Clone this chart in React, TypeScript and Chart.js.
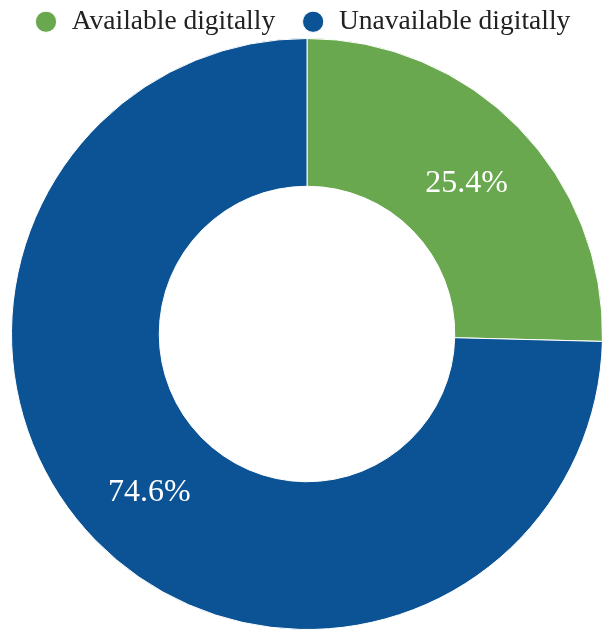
import React, { useEffect, useRef } from "react";
import { Chart, registerables } from "chart.js";

Chart.register(...registerables);

const categories = ["Available digitally", "Unavailable digitally"];
const shares = [25.4, 74.6];
const sliceColors = ["#6aa84f", "#0b5394"];

const FONT_FAMILY = "'Liberation Serif', 'Times New Roman', Times, serif";

const sliceLabelPlugin = {
  id: "sliceLabels",
  afterDatasetsDraw(chart: any) {
    const { ctx } = chart;
    const meta = chart.getDatasetMeta(0);
    const data = chart.data.datasets[0].data as number[];
    ctx.save();
    ctx.fillStyle = "#ffffff";
    ctx.font = "32px " + FONT_FAMILY;
    ctx.textAlign = "center";
    ctx.textBaseline = "middle";
    meta.data.forEach((arc: any, i: number) => {
      const p = arc.getProps(["x", "y", "startAngle", "endAngle", "innerRadius", "outerRadius"], true);
      const mid = (p.startAngle + p.endAngle) / 2;
      const r = (p.innerRadius + p.outerRadius) / 2;
      ctx.fillText(data[i].toFixed(1) + "%", p.x + Math.cos(mid) * r + 1, p.y + Math.sin(mid) * r + 4);
    });
    ctx.restore();
  },
};

export default function App() {
  const ref = useRef<HTMLCanvasElement | null>(null);
  useEffect(() => {
    let chart: Chart | null = null;
    let cancelled = false;
    const build = () => {
      if (cancelled || !ref.current) return;
      chart = new Chart(ref.current, {
        type: "doughnut",
        data: {
          labels: categories,
          datasets: [
            {
              data: shares,
              backgroundColor: sliceColors,
              borderColor: "#ffffff",
              borderWidth: 1,
            },
          ],
        },
        options: {
          animation: false,
          responsive: false,
          maintainAspectRatio: false,
          events: [],
          cutout: "50%",
          layout: { padding: { left: 8, right: 0, top: 0, bottom: 3 } },
          plugins: {
            tooltip: { enabled: false },
            legend: {
              position: "top",
              align: "start",
              maxHeight: 56,
              labels: {
                usePointStyle: true,
                pointStyle: "circle",
                boxWidth: 24,
                boxHeight: 15,
                padding: 26,
                color: "#222222",
                font: { family: FONT_FAMILY, size: 27.5 },
              },
            },
          },
        },
        plugins: [sliceLabelPlugin],
      });
    };
    const fonts = (document as any).fonts;
    if (fonts && fonts.load) {
      Promise.all([
        fonts.load("27.5px 'Liberation Serif'"),
        fonts.load("32px 'Liberation Serif'"),
      ])
        .catch(() => null)
        .then(() => build());
    } else {
      build();
    }
    return () => {
      cancelled = true;
      if (chart) chart.destroy();
    };
  }, []);
  return (
    <div style={{ position: "fixed", left: 0, top: -18, width: 606, height: 651 }}>
      <canvas ref={ref} width={606} height={651} style={{ width: 606, height: 651, display: "block" }} />
    </div>
  );
}
